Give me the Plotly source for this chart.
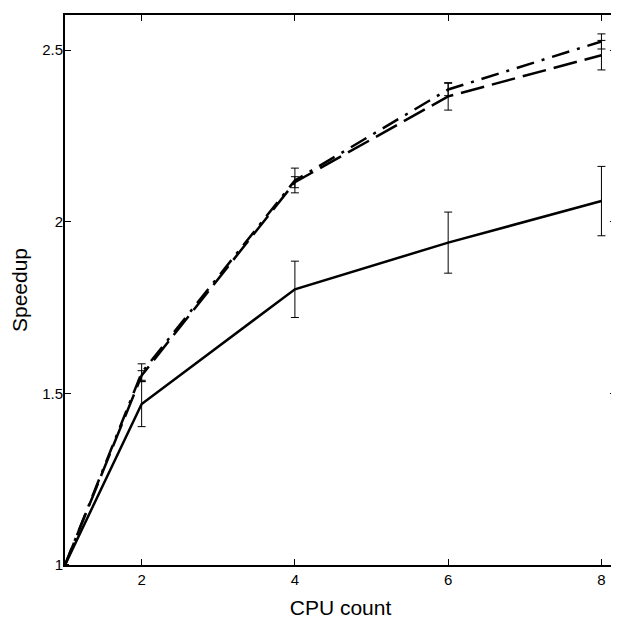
import plotly.graph_objects as go

cpu = [1, 2, 4, 6, 8]

solid_y = [1.0, 1.469, 1.803, 1.939, 2.060]
solid_err = [0.0, 0.066, 0.082, 0.089, 0.101]

dashed_y = [1.0, 1.552, 2.115, 2.365, 2.485]
dashed_err = [0.0, 0.014, 0.016, 0.040, 0.043]

dashdot_y = [1.0, 1.560, 2.120, 2.385, 2.525]
dashdot_err = [0.0, 0.026, 0.036, 0.018, 0.022]

x_ticks = [2, 4, 6, 8]
y_ticks = [1, 1.5, 2, 2.5]
y_labels = ["1", "1.5", "2", "2.5"]

FONT = "Liberation Sans, Arial, sans-serif"

fig = go.Figure()

def add(y, err, dash):
    fig.add_trace(go.Scatter(
        x=cpu, y=y, mode="lines",
        line=dict(color="black", width=2.5, dash=dash),
        error_y=dict(type="data", array=err, visible=True,
                     color="black", thickness=1, width=4),
        showlegend=False, hoverinfo="skip"))

add(solid_y, solid_err, "solid")
add(dashed_y, dashed_err, "24px,8px")
add(dashdot_y, dashdot_err, "18px,8px,3px,8px")

axis_common = dict(
    showgrid=False, zeroline=False, showline=True, linecolor="black",
    linewidth=2, mirror="allticks", ticks="inside", ticklen=6,
    tickcolor="black", tickwidth=1, automargin=False,
    tickfont=dict(family=FONT, size=15, color="black"),
)

# the page body has an 8px default margin, so the figure is 611px and
# its margins are offset accordingly
fig.update_layout(
    width=611, height=611,
    margin=dict(l=57, r=3, t=7, b=54, autoexpand=False),
    plot_bgcolor="white", paper_bgcolor="white",
    xaxis=dict(range=[1, 8.19], tickvals=x_ticks, ticktext=[str(t) for t in x_ticks],
               title=dict(text="CPU count", standoff=13,
                          font=dict(family=FONT, size=21, color="black")),
               **axis_common),
    yaxis=dict(range=[1, 2.602], tickvals=y_ticks, ticktext=y_labels,
               ticklabelstandoff=-3,
               title=dict(text="Speedup", standoff=10,
                          font=dict(family=FONT, size=21, color="black")),
               **axis_common),
)

fig.write_html("out.html")
